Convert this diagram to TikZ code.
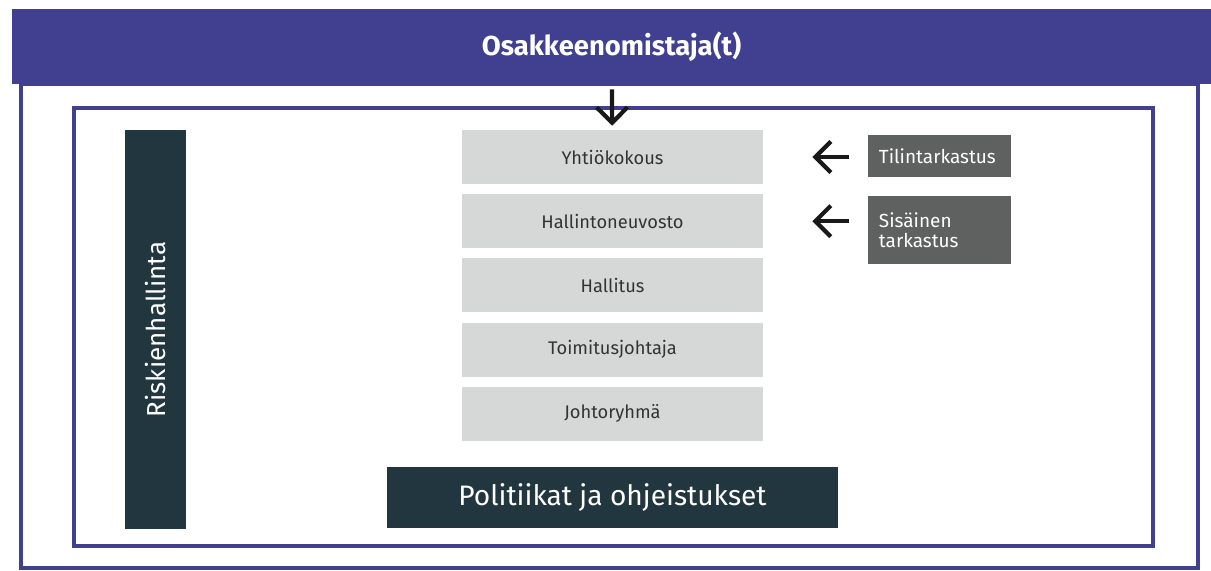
\documentclass[tikz,border=0pt]{standalone}
\usepackage{fontspec}
\setmainfont{Fira Sans}
\usetikzlibrary{positioning,arrows.meta}
\definecolor{owners}{HTML}{413F8F}
\definecolor{darkteal}{HTML}{223640}
\definecolor{paleorgan}{HTML}{D5D8D7}
\definecolor{auditgrey}{HTML}{5E6160}
\begin{document}
\begin{tikzpicture}[
    x=0.025cm, y=-0.025cm,
    node distance=0.24cm,
    organ/.style={fill=paleorgan, text=black!80, minimum width=7.525cm, minimum height=1.35cm, inner sep=0pt, font=\fontsize{13}{15}\selectfont},
    audit/.style={fill=auditgrey, text=white, text width=3.025cm, inner sep=0.275cm, align=left, font=\fontsize{13.5}{14.5}\selectfont},
    darkbar/.style={fill=darkteal, text=white, inner sep=0pt},
    frame/.style={draw=owners, line width=2.4pt},
    arrow/.style={line width=3pt, -{Straight Barb[length=11pt,width=22pt]}, black!90}
]
    \useasboundingbox (0,0) rectangle (1211,571);
    \draw [frame] (21,84) rectangle (1198,568);
    \draw [frame] (74,108) rectangle (1153,546);

    \node (top) [fill=owners, text=white, minimum width=29.975cm, minimum height=1.875cm, inner sep=0pt, font=\fontsize{19.5}{22}\selectfont\bfseries] at (611.5,46.5) {Osakkeenomistaja(t)};

    \node (a) [organ] at (612.5,157) {Yhtiökokous};
    \node (b) [organ, below=of a] {Hallintoneuvosto};
    \node (c) [organ, below=of b] {Hallitus};
    \node (d) [organ, below=of c] {Toimitusjohtaja};
    \node (e) [organ, below=of d] {Johtoryhmä};
    \node (pol) [darkbar, minimum width=11.275cm, minimum height=1.525cm, below=0.65cm of e, font=\fontsize{20}{22}\selectfont] {Politiikat ja ohjeistukset};

    \node (risk) [darkbar, rotate=90, minimum width=9.975cm, minimum height=1.525cm, font=\fontsize{18.5}{20}\selectfont] at (155.5,329.5) {Riskienhallinta};

    \node (tt) [audit, minimum height=1.05cm] at (939.5,156) {Tilintarkastus};
    \node (st) [audit, minimum height=1.7cm] at (939.5,230) {Sisäinen\\tarkastus};

    \draw [arrow, shorten <=0.125cm, shorten >=0.1cm] (top) -- (a);
    \draw [arrow, shorten <=0.475cm, shorten >=1.225cm] (a.east -| tt.west) -- (a.east);
    \draw [arrow, shorten <=0.475cm, shorten >=1.225cm] (b.east -| st.west) -- (b.east);
\end{tikzpicture}
\end{document}
